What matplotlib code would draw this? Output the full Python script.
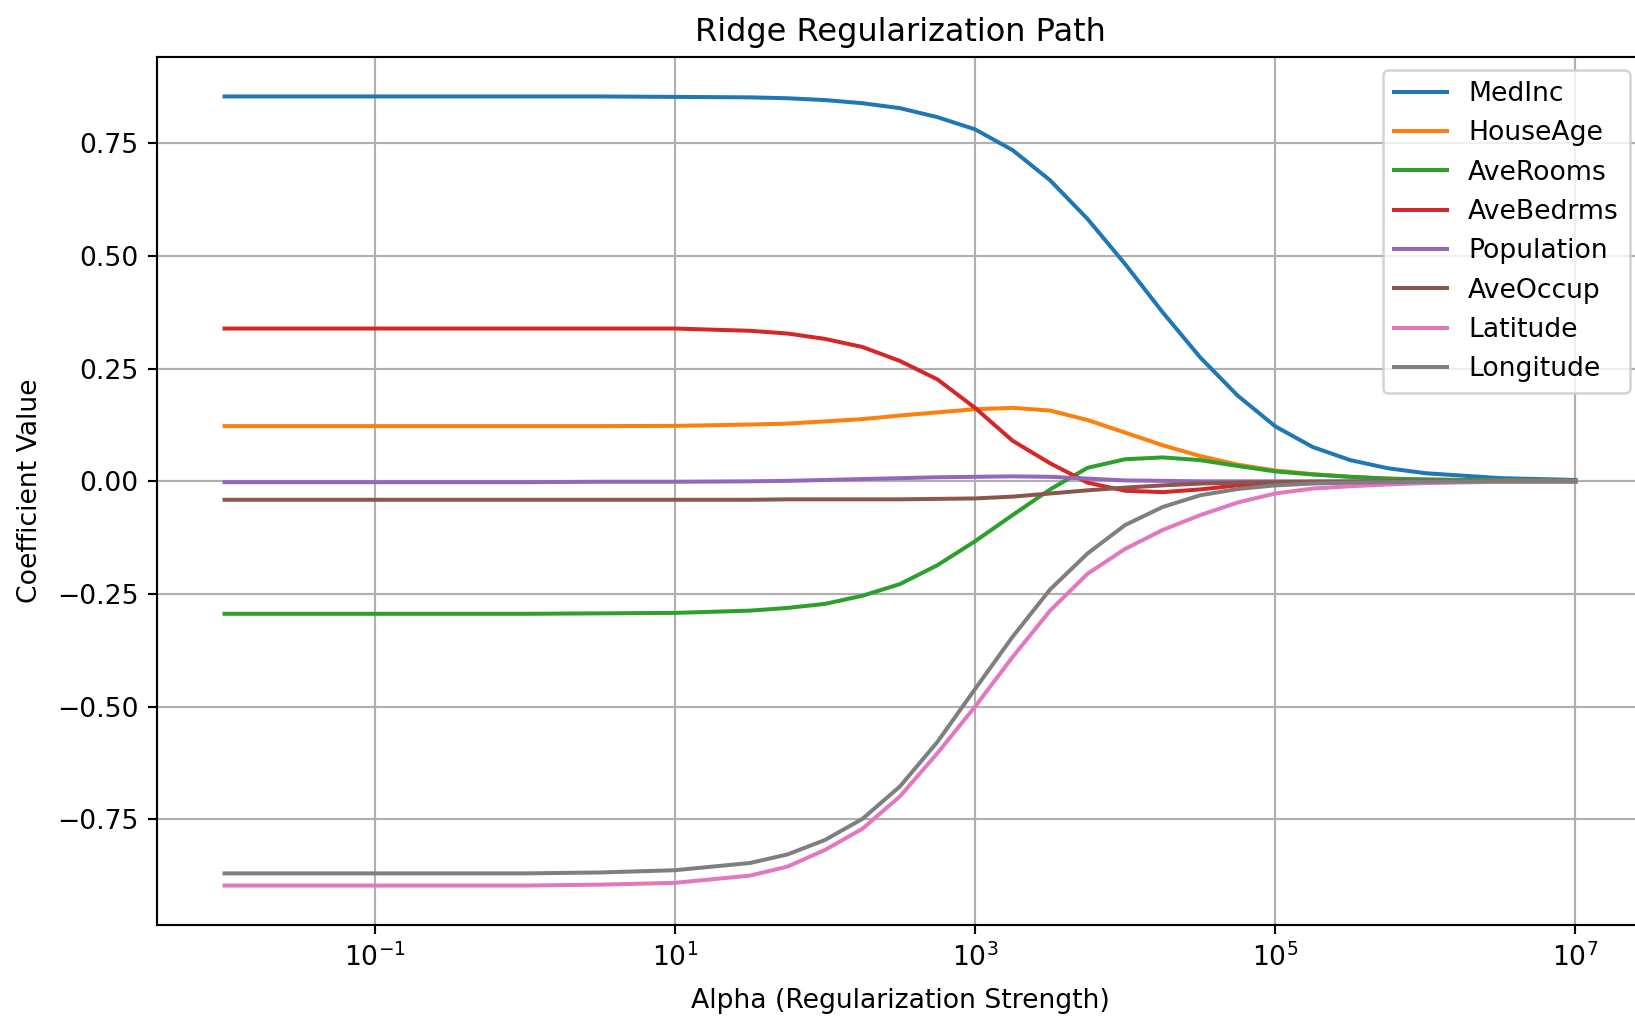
import numpy as np
import matplotlib
matplotlib.use("Agg")
import matplotlib.pyplot as plt
from matplotlib.ticker import FixedLocator, NullLocator, LogFormatterSciNotation

# log10(alpha) sample points
log_alpha = [-2, -1, 0, 0.5, 1, 1.5, 1.75, 2, 2.25, 2.5, 2.75, 3, 3.25, 3.5,
             3.75, 4, 4.25, 4.5, 4.75, 5, 5.25, 5.5, 5.75, 6, 6.5, 7]

features = ["MedInc", "HouseAge", "AveRooms", "AveBedrms",
            "Population", "AveOccup", "Latitude", "Longitude"]

med_inc = [.854, .854, .854, .854, .853, .852, .850, .846, .839, .828, .808, .781, .735, .668,
           .582, .482, .375, .275, .190, .122, .076, .047, .029, .018, .007, .003]
house_age = [.1225, .1225, .1225, .1225, .123, .126, .128, .133, .138, .146, .153, .160, .163, .157,
             .136, .108, .080, .056, .037, .024, .016, .010, .006, .004, .002, .001]
ave_rooms = [-.294, -.294, -.294, -.293, -.292, -.287, -.281, -.272, -.254, -.228, -.186, -.133, -.075, -.018,
             .030, .049, .053, .047, .034, .022, .015, .010, .006, .004, .002, .001]
ave_bedrms = [.339, .339, .339, .339, .339, .334, .328, .316, .298, .267, .226, .163, .090, .040,
              -.003, -.021, -.024, -.018, -.009, -.004, -.002, -.001, 0, 0, 0, 0]
population = [-.002, -.002, -.002, -.001, -.001, .000, .001, .003, .005, .007, .009, .010, .011, .010,
              .006, .002, .001, .000, 0, 0, 0, 0, 0, 0, 0, 0]
ave_occup = [-.041, -.041, -.041, -.041, -.041, -.041, -.040, -.040, -.040, -.040, -.039, -.038, -.034, -.027,
             -.020, -.014, -.009, -.005, -.003, -.002, -.001, -.001, 0, 0, 0, 0]
latitude = [-.897, -.897, -.897, -.895, -.891, -.875, -.855, -.818, -.771, -.699, -.603, -.500, -.390, -.287,
            -.205, -.150, -.108, -.075, -.047, -.027, -.016, -.011, -.007, -.004, -.001, 0]
longitude = [-.870, -.870, -.870, -.868, -.863, -.847, -.828, -.796, -.749, -.677, -.578, -.461, -.345, -.240,
             -.160, -.097, -.057, -.031, -.017, -.009, -.005, -.003, -.002, -.001, 0, 0]

coefs = [med_inc, house_age, ave_rooms, ave_bedrms, population, ave_occup, latitude, longitude]
alphas = 10.0 ** np.array(log_alpha)

W, H, DPI = 1635, 1017, 192
fig = plt.figure(figsize=(W / DPI, H / DPI), dpi=DPI)
# axes runs slightly past the right edge, like the cropped original
ax = fig.add_axes([157 / W, 1 - 925 / H, 1486 / W, (925 - 57) / H])

for name, c in zip(features, coefs):
    ax.plot(alphas, c, label=name)

ax.set_xscale("log")
ax.xaxis.set_major_locator(FixedLocator([1e-1, 1e1, 1e3, 1e5, 1e7]))
ax.xaxis.set_major_formatter(LogFormatterSciNotation())
ax.xaxis.set_minor_locator(NullLocator())

ax.set_xlabel("Alpha (Regularization Strength)", labelpad=6)
ax.set_ylabel("Coefficient Value", labelpad=5)
ax.set_title("Ridge Regularization Path")
ax.legend(loc="upper right")
ax.grid(True)

fig.savefig("out.png", dpi=DPI)
